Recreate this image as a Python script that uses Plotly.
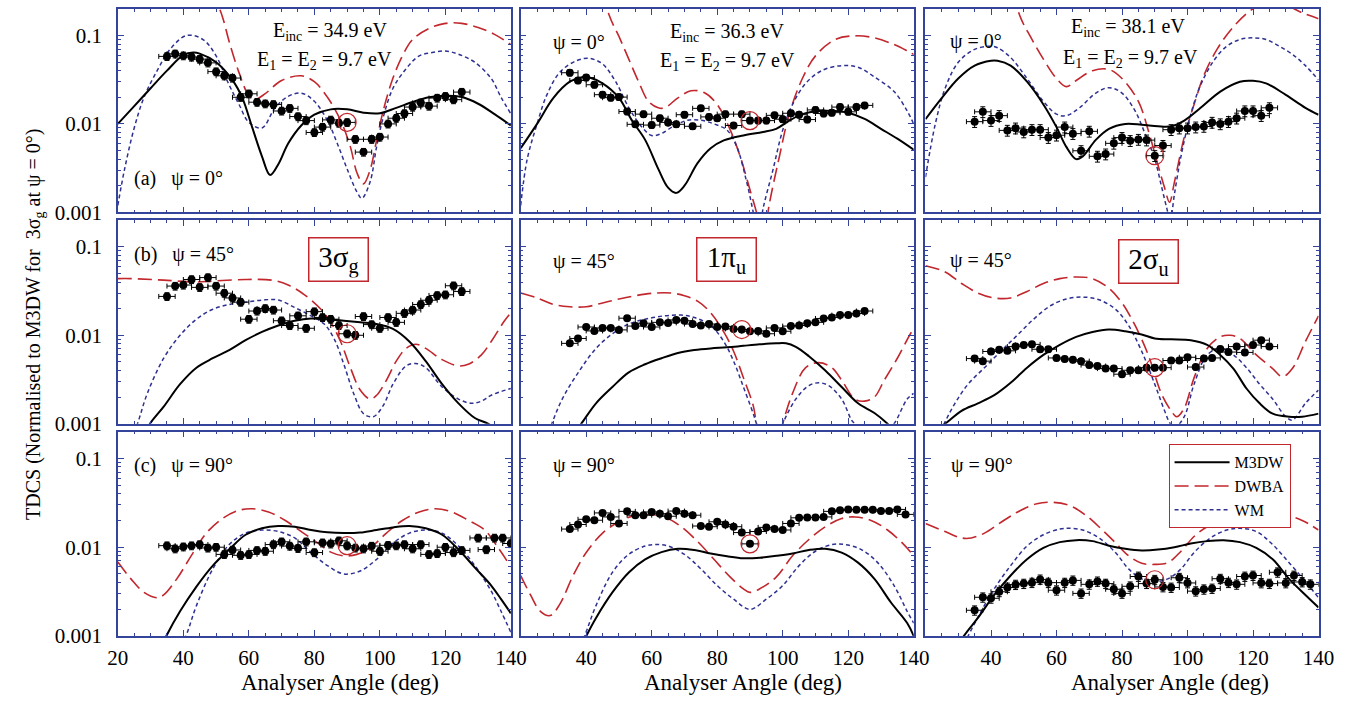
import plotly.graph_objects as go

# ---------------- experimental angles ----------------
ANG_A = [35, 37.5, 40, 42.5, 45, 47.5, 50, 52.5, 55, 57.5, 60, 62.5, 65, 67.5, 70, 72.5,
         75, 77.5, 80, 82.5, 85, 87.5, 90, 92.5, 95, 97.5, 100, 102.5, 105, 107.5, 110,
         112.5, 115, 117.5, 120, 122.5, 125]
ANG_B = [35, 37.5, 40, 42.5, 45, 47.5, 50, 52.5, 55, 57.5, 60, 62.5, 65, 67.5, 70, 72.5,
         75, 77.5, 80, 82.5, 85, 87.5, 90, 92.5, 95, 97.5, 100, 102.5, 105, 107.5, 110,
         112.5, 115, 117.5, 120, 122.5, 125, 130, 132.5, 135, 137.5, 140]
ANG_C = [35, 37.5, 40, 42.5, 45, 47.5, 50, 52.5, 55, 57.5, 60, 62.5, 65, 67.5, 70, 72.5,
         75, 77.5, 80, 82.5, 85, 87.5, 90, 92.5, 95, 97.5, 100, 102.5, 105, 107.5, 110,
         112.5, 115, 117.5, 120, 122.5, 125, 127.5, 130, 132.5, 135, 137.5]

# ---------------- experimental values ----------------
EXP_3SG_0 = [0.058, 0.062, 0.059, 0.057, 0.054, 0.049, 0.039, 0.035, 0.033, 0.020, 0.0219, 0.0176,
             0.0169, 0.0166, 0.014, 0.015, 0.0121, 0.0109, 0.008, 0.0092, 0.0111, 0.0102, 0.0104,
             0.0067, 0.0048, 0.0067, 0.0071, 0.010, 0.0116, 0.0131, 0.0155, 0.0173, 0.0159,
             0.0196, 0.0205, 0.0188, 0.0229]
EXP_1PU_0 = [0.0379, 0.031, 0.0334, 0.0277, 0.0214, 0.0198, 0.0201, 0.0138, 0.0099, 0.0129, 0.0097,
             0.0116, 0.0104, 0.0099, 0.0127, 0.0094, 0.015, 0.012, 0.0116, 0.0129, 0.0096, 0.0129,
             0.0109, 0.0109, 0.0109, 0.0125, 0.0113, 0.0132, 0.0127, 0.0112, 0.0144, 0.0131,
             0.0134, 0.0155, 0.0137, 0.0155, 0.0162]
EXP_2SU_0 = [0.0106, 0.0137, 0.0109, 0.0124, 0.00845, 0.00896, 0.0081, 0.0086, 0.0086, 0.0070,
             0.00745, 0.0092, 0.00776, 0.00497, 0.00824, 0.0043, 0.00456, 0.00603, 0.0070, 0.00646,
             0.00667, 0.00656, 0.00437, 0.00569, 0.0086, 0.00896, 0.00896, 0.0092, 0.00935, 0.0104,
             0.010, 0.0106, 0.0116, 0.014, 0.014, 0.0124, 0.0152]
EXP_3SG_45 = [0.0275, 0.036, 0.037, 0.0427, 0.0348, 0.0449, 0.036, 0.0299, 0.0264, 0.0237, 0.0152,
              0.0188, 0.0201, 0.0193, 0.0146, 0.0129, 0.0166, 0.012, 0.0185, 0.0159, 0.0152, 0.0129,
              0.0104, 0.0100, 0.0163, 0.0132, 0.012, 0.0159, 0.014, 0.0177, 0.0193, 0.0223, 0.0249,
              0.0282, 0.0287, 0.0363, 0.0313]
EXP_1PU_45 = [0.0081, 0.0092, 0.0124, 0.0112, 0.0121, 0.0121, 0.0115, 0.0156, 0.0127, 0.0137, 0.0124,
              0.014, 0.0138, 0.0149, 0.0146, 0.0134, 0.0129, 0.0134, 0.0124, 0.0126, 0.0118, 0.0116,
              0.0111, 0.0112, 0.0104, 0.0121, 0.0111, 0.0127, 0.0129, 0.0137, 0.014, 0.0155, 0.0159,
              0.0169, 0.017, 0.0176, 0.0188]
EXP_2SU_45 = [0.00545, 0.0051, 0.00656, 0.00684, 0.00667, 0.00745, 0.00776, 0.00789, 0.00695,
              0.00695, 0.00554, 0.0054, 0.00527, 0.0051, 0.0046, 0.00449, 0.0042, 0.0042, 0.00363,
              0.00402, 0.00402, 0.0043, 0.0043, 0.0043, 0.00518, 0.00518, 0.00564, 0.00437,
              0.00545, 0.00554, 0.0070, 0.00646, 0.00745, 0.0064, 0.00776, 0.0088, 0.00745]
EXP_3SG_90 = [0.0104, 0.0096, 0.0101, 0.0104, 0.0107, 0.0098, 0.0100, 0.0083, 0.0093, 0.0081, 0.0083,
              0.0092, 0.0090, 0.0107, 0.0115, 0.0103, 0.0097, 0.0115, 0.0087, 0.0112, 0.0109, 0.0118,
              0.0104, 0.0098, 0.0096, 0.0103, 0.0090, 0.0105, 0.0104, 0.0107, 0.0096, 0.0107,
              0.0083, 0.0085, 0.0100, 0.0087, 0.0092, 0.0127, 0.0094, 0.0127, 0.0127, 0.011]
EXP_1PU_90 = [0.016, 0.018, 0.0206, 0.0201, 0.0243, 0.0219, 0.0185, 0.0253, 0.0229, 0.0229, 0.0249,
              0.0238, 0.0223, 0.0255, 0.0238, 0.0229, 0.0173, 0.017, 0.0193, 0.018, 0.017, 0.0146,
              0.0109, 0.015, 0.0167, 0.016, 0.0156, 0.0185, 0.0214, 0.0216, 0.0216, 0.0219, 0.0253,
              0.026, 0.0266, 0.0264, 0.0264, 0.0264, 0.0255, 0.0255, 0.0266, 0.0234]
EXP_2SU_90 = [0.00195, 0.00273, 0.00266, 0.00315, 0.00352, 0.00379, 0.00389, 0.00399, 0.00434,
              0.00399, 0.00328, 0.00399, 0.00423, 0.00302, 0.00382, 0.00412, 0.00389, 0.00336,
              0.00302, 0.00363, 0.00468, 0.00389, 0.0043, 0.00357, 0.00352, 0.00453, 0.00396,
              0.0032, 0.00336, 0.00343, 0.00442, 0.00399, 0.00382, 0.00468, 0.0048, 0.00396,
              0.00389, 0.00522, 0.00396, 0.0048, 0.00406, 0.00382]

# relative vertical error of each panel's data
REL_ERR = [0.10, 0.08, 0.14, 0.10, 0.06, 0.07, 0.10, 0.06, 0.12]
ANG_ERR = 2.5

# highlighted (circled) normalisation point of each panel
CIRCLE_ANG = [90, 90, 90, 90, 87.5, 90, 90, 90, 90]
CIRCLE_VAL = [0.0104, 0.0109, 0.00437, 0.0104, 0.0116, 0.0043, 0.0104, 0.0109, 0.0043]

# ---------------- theory: M3DW ----------------
M3DW_ANG_1 = [20, 25, 30, 35, 40, 43, 45, 50, 55, 58, 61, 64, 66.5, 69, 72, 76, 80, 85, 90, 95, 100,
              105, 110, 115, 120, 125, 130, 135, 140]
M3DW_VAL_1 = [0.01, 0.0159, 0.0253, 0.040, 0.0598, 0.064, 0.0623, 0.0497, 0.0313, 0.0197, 0.0092,
              0.0043, 0.00264, 0.0035, 0.006, 0.0096, 0.0127, 0.0146, 0.0146, 0.0134, 0.0132, 0.0152,
              0.0177, 0.020, 0.0208, 0.0201, 0.0169, 0.0129, 0.0096]
M3DW_ANG_2 = [20, 25, 30, 35, 39, 41, 45, 50, 54, 58, 62, 65, 67.5, 70, 74, 78, 82, 88, 94, 98, 102,
              106, 111, 116, 120, 125, 130, 135, 140]
M3DW_VAL_2 = [0.0053, 0.01, 0.0197, 0.03, 0.034, 0.0334, 0.0287, 0.0197, 0.0109, 0.0066, 0.0031,
              0.0019, 0.00166, 0.002, 0.0036, 0.0053, 0.0065, 0.0074, 0.0081, 0.0088, 0.0109, 0.0129,
              0.014, 0.014, 0.0134, 0.0114, 0.0088, 0.0068, 0.0051]
M3DW_ANG_3 = [20, 25, 30, 35, 40, 42, 46, 51, 56, 60, 63, 66, 68, 72, 76, 81, 86, 91, 95, 99, 104,
              110, 116, 120, 124, 130, 136, 140]
M3DW_VAL_3 = [0.0113, 0.0197, 0.0326, 0.0456, 0.0518, 0.0518, 0.0456, 0.03, 0.0166, 0.0092, 0.0055,
              0.004, 0.0043, 0.0066, 0.0088, 0.01, 0.0098, 0.0094, 0.0094, 0.0109, 0.0152, 0.0232,
              0.03, 0.0307, 0.0287, 0.0213, 0.0152, 0.0127]
M3DW_ANG_4 = [25, 29.8, 34, 39, 44, 49, 54, 59, 64, 69, 74, 79, 84, 89, 94, 99, 104, 109, 114, 119,
              124, 129, 133, 137, 140]
M3DW_VAL_4 = [0.0005, 0.001, 0.00156, 0.0028, 0.0043, 0.0055, 0.0068, 0.0088, 0.0109, 0.0129, 0.0146,
              0.0155, 0.0152, 0.0146, 0.014, 0.0134, 0.0118, 0.0085, 0.0051, 0.0028, 0.0017, 0.00116,
              0.001, 0.0008, 0.0007]
M3DW_ANG_5 = [34, 38.5, 43, 48, 53, 58, 63, 68, 73, 78, 83, 88, 93, 98, 101, 104, 108, 113, 118, 123,
              128, 132, 136]
M3DW_VAL_5 = [0.0006, 0.001, 0.0017, 0.0026, 0.0038, 0.0047, 0.0055, 0.0063, 0.0068, 0.0071, 0.0073,
              0.0076, 0.0079, 0.0081, 0.0081, 0.0074, 0.0058, 0.004, 0.0026, 0.0017, 0.00132, 0.001,
              0.0007]
M3DW_ANG_6 = [20, 24, 26, 31, 36, 41, 46, 51, 56, 61, 66, 71, 76, 81, 86, 90, 95, 101, 106, 110, 114,
              118, 122, 126, 131, 135, 140]
M3DW_VAL_6 = [0.0006, 0.0009, 0.001, 0.0014, 0.0017, 0.0021, 0.0029, 0.0043, 0.006, 0.0078, 0.0096,
              0.0109, 0.0116, 0.0111, 0.0102, 0.0092, 0.009, 0.0088, 0.0078, 0.006, 0.0042, 0.0025,
              0.0017, 0.0013, 0.0012, 0.0012, 0.0013]
M3DW_ANG_7 = [30, 34.8, 39, 44, 49, 54, 59, 64, 69, 74, 79, 84, 89, 94, 99, 104, 109, 114, 119, 124,
              129, 134, 137, 140]
M3DW_VAL_7 = [0.0004, 0.001, 0.0019, 0.0036, 0.0062, 0.0094, 0.0138, 0.0163, 0.0173, 0.017, 0.0156,
              0.0147, 0.0144, 0.0146, 0.0156, 0.0167, 0.0173, 0.0163, 0.0138, 0.0094, 0.0059, 0.0037,
              0.0026, 0.0018]
M3DW_ANG_8 = [36, 40, 43, 48, 53, 58, 63, 68, 73, 78, 83, 88, 93, 98, 103, 108, 113, 118, 123, 128,
              133, 138, 140]
M3DW_VAL_8 = [0.0005, 0.001, 0.0016, 0.0031, 0.0052, 0.0073, 0.0088, 0.0096, 0.0093, 0.0085, 0.0079,
              0.0075, 0.0076, 0.008, 0.0085, 0.0093, 0.0096, 0.0087, 0.0067, 0.0044, 0.0024, 0.0014,
              0.001]
M3DW_ANG_9 = [27, 31.7, 36, 41, 46, 51, 56, 61, 66, 71, 76, 81, 86, 91, 96, 101, 106, 111, 116, 121,
              126, 131, 136, 140]
M3DW_VAL_9 = [0.0005, 0.001, 0.0016, 0.0029, 0.0048, 0.0073, 0.0098, 0.0114, 0.012, 0.0117, 0.0104,
              0.0096, 0.0092, 0.0094, 0.01, 0.011, 0.0117, 0.012, 0.0114, 0.0098, 0.0073, 0.0044,
              0.0029, 0.0021]

# ---------------- theory: DWBA ----------------
DWBA_ANG_1 = [46, 50, 52, 54, 57, 60, 62, 65, 70, 76, 80, 84, 88, 91, 93, 95, 97, 99, 101, 104, 107,
              110, 115, 120, 125, 130, 135, 140]
DWBA_VAL_1 = [0.5, 0.25, 0.16, 0.085, 0.038, 0.021, 0.019, 0.022, 0.031, 0.035, 0.03, 0.02, 0.011,
              0.0055, 0.0028, 0.0021, 0.003, 0.0065, 0.014, 0.033, 0.06, 0.09, 0.12, 0.137, 0.137,
              0.123, 0.103, 0.079]
DWBA_ANG_2 = [44, 47, 50, 53, 56, 59, 62, 64, 68, 72, 76, 80, 84, 87, 90, 92, 94, 96, 99, 102, 106,
              110, 116, 122, 128, 134, 138, 140]
DWBA_VAL_2 = [0.5, 0.17, 0.0975, 0.054, 0.03, 0.018, 0.0152, 0.0152, 0.0197, 0.0237, 0.0226, 0.0166,
              0.0085, 0.0043, 0.0018, 0.001, 0.0005, 0.0013, 0.0043, 0.0129, 0.0326, 0.0588, 0.09,
              0.099, 0.094, 0.079, 0.067, 0.061]
DWBA_ANG_3 = [45, 49, 52, 56, 60, 63, 66, 71, 76, 80, 85, 88, 91, 93, 94.5, 96, 99, 102, 105, 109,
              114, 120, 125, 130, 135, 140]
DWBA_VAL_3 = [0.5, 0.16, 0.0975, 0.054, 0.0326, 0.0264, 0.031, 0.040, 0.0413, 0.0326, 0.018, 0.0085,
              0.0034, 0.0019, 0.0013, 0.0022, 0.0071, 0.0166, 0.0354, 0.0696, 0.125, 0.2, 0.23, 0.22,
              0.18, 0.155]
DWBA_ANG_4 = [20, 24, 34, 44, 49, 59, 67, 72, 77, 82, 85, 88, 91, 94, 97, 99, 102, 105, 108, 111,
              114, 119, 124, 127, 131, 134, 138, 140]
DWBA_VAL_4 = [0.0437, 0.0437, 0.042, 0.040, 0.041, 0.0427, 0.042, 0.037, 0.0287, 0.0197, 0.014,
              0.0085, 0.0043, 0.0024, 0.0019, 0.0021, 0.0031, 0.0051, 0.0071, 0.0079, 0.0071, 0.0053,
              0.0045, 0.0047, 0.006, 0.0085, 0.0145, 0.018]
DWBA_ANG_5 = [20, 25, 30, 35, 40, 45, 50, 55, 61, 66, 70, 74, 78, 82, 85, 88, 91, 92, 94, 98, 100,
              103, 107, 111, 115, 118, 122, 125, 128, 131, 135, 139, 140]
DWBA_VAL_5 = [0.03, 0.0264, 0.0223, 0.021, 0.021, 0.0232, 0.0257, 0.028, 0.03, 0.03, 0.028, 0.0243,
              0.018, 0.0109, 0.0066, 0.0033, 0.0016, 0.001, 0.0005, 0.0005, 0.001, 0.0022, 0.0043,
              0.0049, 0.0043, 0.0031, 0.0019, 0.0018, 0.002, 0.0031, 0.0055, 0.0104, 0.0118]
DWBA_ANG_6 = [20, 26, 31, 36, 41, 46, 51, 56, 61, 66, 71, 76, 80, 84, 88, 92, 95, 96.7, 99, 102, 106,
              110, 113, 116, 121, 126, 129, 132, 136, 140]
DWBA_VAL_6 = [0.061, 0.052, 0.0385, 0.03, 0.0264, 0.0264, 0.0313, 0.0385, 0.0437, 0.0456, 0.0437,
              0.034, 0.0232, 0.0129, 0.006, 0.0022, 0.0014, 0.0012, 0.0015, 0.0033, 0.0071, 0.0096,
              0.01, 0.0092, 0.006, 0.0042, 0.0034, 0.0042, 0.0085, 0.0166]
DWBA_ANG_7 = [20, 24, 28, 32, 34, 38, 43, 47, 52, 57, 61, 66, 71, 76, 81, 85, 89, 93, 97, 102, 107,
              112, 117, 122, 127, 132, 136, 140]
DWBA_VAL_7 = [0.0068, 0.0044, 0.0031, 0.0027, 0.0029, 0.0044, 0.0087, 0.0144, 0.0211, 0.026, 0.0271,
              0.0249, 0.0201, 0.015, 0.0112, 0.0088, 0.008, 0.0083, 0.0098, 0.0144, 0.0201, 0.0249,
              0.0271, 0.0249, 0.0201, 0.0156, 0.01, 0.006]
DWBA_ANG_8 = [20, 23, 26, 29, 32, 36, 40, 45, 50, 55, 59, 64, 69, 74, 79, 84, 88, 90, 93, 98, 103,
              108, 113, 118, 122, 127, 132, 137, 140]
DWBA_VAL_8 = [0.0048, 0.0029, 0.0019, 0.0017, 0.0023, 0.0048, 0.0087, 0.0144, 0.0193, 0.0228, 0.0233,
              0.0219, 0.017, 0.0116, 0.0073, 0.0046, 0.0034, 0.0031, 0.0034, 0.0046, 0.008, 0.0122,
              0.017, 0.021, 0.0219, 0.02, 0.0156, 0.0107, 0.008]
DWBA_ANG_9 = [20, 26, 31, 34, 38, 44, 49, 54, 59, 64, 69, 74, 78, 82, 86, 90, 94, 98, 102, 106, 111,
              116, 120, 125, 130, 135, 140]
DWBA_VAL_9 = [0.0185, 0.015, 0.0127, 0.0127, 0.0144, 0.0201, 0.0259, 0.0308, 0.032, 0.0294, 0.0228,
              0.0156, 0.0112, 0.008, 0.0066, 0.0064, 0.0067, 0.009, 0.0132, 0.017, 0.0201, 0.022,
              0.023, 0.024, 0.023, 0.02, 0.0156]

# ---------------- theory: WM ----------------
WM_ANG_1 = [20, 22, 25, 28, 32, 36, 41, 46, 50, 54, 57, 60, 64, 68, 72, 76, 80, 84, 87, 90, 93, 94.5,
            97, 99, 101, 104, 108, 112, 116, 120, 124, 129, 134, 137, 140]
WM_VAL_1 = [0.0012, 0.003, 0.009, 0.02, 0.04, 0.07, 0.1, 0.09, 0.0588, 0.0275, 0.0166, 0.0104, 0.009,
            0.0152, 0.0205, 0.0223, 0.018, 0.0109, 0.006, 0.0031, 0.0017, 0.00144, 0.0022, 0.0055,
            0.0118, 0.0253, 0.042, 0.0588, 0.064, 0.0667, 0.0613, 0.0497, 0.0326, 0.02, 0.013]
WM_ANG_2 = [20, 22, 25, 28, 32, 37, 41, 45, 49, 53, 57, 60, 63, 67, 71, 75, 79, 83, 86, 89, 91, 92.5,
            94, 97, 100, 103, 107, 112, 118, 123, 128, 134, 138, 140]
WM_VAL_2 = [0.0012, 0.004, 0.01, 0.0213, 0.0385, 0.0518, 0.055, 0.0476, 0.03, 0.0153, 0.0092, 0.0074,
            0.0078, 0.0096, 0.011, 0.011, 0.01, 0.0085, 0.0055, 0.0022, 0.001, 0.0005, 0.0011, 0.003,
            0.0085, 0.0166, 0.0287, 0.0402, 0.0456, 0.0437, 0.034, 0.0232, 0.014, 0.01]
WM_ANG_3 = [20, 23, 26, 30, 35, 40, 42, 46, 51, 56, 60, 63, 67, 72, 76, 80, 84, 87, 90, 92, 93.7,
            94.7, 96, 98, 101, 104, 108, 112, 116, 120, 124, 128, 132, 136, 140]
WM_VAL_3 = [0.0025, 0.01, 0.0253, 0.0497, 0.0696, 0.0757, 0.0726, 0.0563, 0.0326, 0.018, 0.0129,
            0.0124, 0.0152, 0.0223, 0.0257, 0.0223, 0.014, 0.0078, 0.004, 0.002, 0.0011, 0.0008,
            0.0016, 0.0043, 0.0129, 0.0275, 0.0518, 0.0757, 0.09, 0.094, 0.09, 0.0757, 0.0613,
            0.0456, 0.0313]
WM_ANG_4 = [22, 26, 29, 34, 39, 44, 49, 54, 59, 64, 69, 74, 79, 83, 86, 89, 92, 95, 98, 101, 104,
            108, 111, 114, 119, 124, 128, 131, 134, 140]
WM_VAL_4 = [0.0004, 0.001, 0.0022, 0.0055, 0.01, 0.0152, 0.0197, 0.0223, 0.0237, 0.025, 0.025, 0.0206,
            0.0166, 0.0134, 0.0092, 0.0047, 0.0022, 0.0013, 0.0012, 0.0016, 0.0028, 0.0045, 0.0048,
            0.0043, 0.0026, 0.0019, 0.0017, 0.0018, 0.0021, 0.0025]
WM_ANG_5 = [26, 29.5, 33, 38, 43, 48, 53, 58, 64, 69, 73, 78, 82, 85, 88, 91, 92, 96, 100, 104, 108,
            111, 114, 118, 121, 122, 126, 130, 134, 138, 140]
WM_VAL_5 = [0.0004, 0.001, 0.002, 0.004, 0.0071, 0.0104, 0.0134, 0.0152, 0.0166, 0.0169, 0.0159,
            0.0129, 0.0085, 0.0051, 0.0026, 0.0013, 0.001, 0.0004, 0.001, 0.0019, 0.0027, 0.0029,
            0.0027, 0.0019, 0.0011, 0.001, 0.0007, 0.0007, 0.001, 0.0019, 0.0022]
WM_ANG_6 = [22, 25.7, 29, 33, 38, 43, 48, 53, 58, 63, 68, 73, 78, 82, 86, 90, 93, 94.7, 96, 99, 102,
            106, 110, 114, 118, 122, 126, 130, 132, 136, 140]
WM_VAL_6 = [0.0005, 0.001, 0.0017, 0.0028, 0.0043, 0.0066, 0.01, 0.0152, 0.0214, 0.0257, 0.027,
            0.0252, 0.0197, 0.0129, 0.0066, 0.0028, 0.0014, 0.001, 0.0009, 0.0012, 0.0028, 0.006,
            0.0071, 0.006, 0.0043, 0.0028, 0.0019, 0.0012, 0.0011, 0.0017, 0.0024]
WM_ANG_7 = [36, 40.8, 44, 49, 54, 59, 64, 69, 74, 79, 84, 89, 94, 99, 104, 109, 114, 119, 124, 129,
            134, 137, 140]
WM_VAL_7 = [0.0004, 0.001, 0.0022, 0.0057, 0.0107, 0.0144, 0.0156, 0.015, 0.0127, 0.0087, 0.0062,
            0.005, 0.0054, 0.0073, 0.0111, 0.0144, 0.0156, 0.0144, 0.0103, 0.0062, 0.0032, 0.0019,
            0.0011]
WM_ANG_8 = [35, 39.5, 43, 48, 53, 58, 61, 65, 70, 75, 80, 85, 90, 95, 100, 105, 110, 115, 119, 124,
            129, 134, 138, 140]
WM_VAL_8 = [0.0004, 0.001, 0.0022, 0.0052, 0.0083, 0.0103, 0.0107, 0.0103, 0.0083, 0.0057, 0.0037,
            0.0026, 0.002, 0.0026, 0.0037, 0.0062, 0.009, 0.0107, 0.0107, 0.0094, 0.0067, 0.0037,
            0.0019, 0.0014]
WM_ANG_9 = [29, 33, 37, 41, 46, 51, 56, 61, 64, 68, 73, 78, 82, 86, 90, 94, 98, 102, 107, 112, 116,
            121, 126, 131, 136, 140]
WM_VAL_9 = [0.0005, 0.001, 0.0019, 0.0034, 0.0062, 0.0103, 0.0138, 0.016, 0.0163, 0.0156, 0.0127,
            0.0087, 0.0057, 0.0044, 0.0041, 0.0044, 0.0057, 0.0087, 0.0127, 0.0156, 0.0163, 0.015,
            0.0107, 0.0067, 0.0041, 0.0027]

X_TICKS_FIRST = [20, 40, 60, 80, 100, 120, 140]
X_TICKS_OTHER = [40, 60, 80, 100, 120, 140]
Y_TICKS = [0.001, 0.01, 0.1]
Y_TICK_TEXT = ["0.001", "0.01", "0.1"]
Y_MINOR = [0.002, 0.003, 0.004, 0.005, 0.006, 0.007, 0.008, 0.009,
           0.02, 0.03, 0.04, 0.05, 0.06, 0.07, 0.08, 0.09]

# ---------------- assembly ----------------
EXP_ANGS = [ANG_A, ANG_A, ANG_A, ANG_A, ANG_A, ANG_A, ANG_B, ANG_C, ANG_C]
EXP_VALS = [EXP_3SG_0, EXP_1PU_0, EXP_2SU_0, EXP_3SG_45, EXP_1PU_45, EXP_2SU_45,
            EXP_3SG_90, EXP_1PU_90, EXP_2SU_90]
M3DW = [(M3DW_ANG_1, M3DW_VAL_1), (M3DW_ANG_2, M3DW_VAL_2), (M3DW_ANG_3, M3DW_VAL_3),
        (M3DW_ANG_4, M3DW_VAL_4), (M3DW_ANG_5, M3DW_VAL_5), (M3DW_ANG_6, M3DW_VAL_6),
        (M3DW_ANG_7, M3DW_VAL_7), (M3DW_ANG_8, M3DW_VAL_8), (M3DW_ANG_9, M3DW_VAL_9)]
DWBA = [(DWBA_ANG_1, DWBA_VAL_1), (DWBA_ANG_2, DWBA_VAL_2), (DWBA_ANG_3, DWBA_VAL_3),
        (DWBA_ANG_4, DWBA_VAL_4), (DWBA_ANG_5, DWBA_VAL_5), (DWBA_ANG_6, DWBA_VAL_6),
        (DWBA_ANG_7, DWBA_VAL_7), (DWBA_ANG_8, DWBA_VAL_8), (DWBA_ANG_9, DWBA_VAL_9)]
WM = [(WM_ANG_1, WM_VAL_1), (WM_ANG_2, WM_VAL_2), (WM_ANG_3, WM_VAL_3),
      (WM_ANG_4, WM_VAL_4), (WM_ANG_5, WM_VAL_5), (WM_ANG_6, WM_VAL_6),
      (WM_ANG_7, WM_VAL_7), (WM_ANG_8, WM_VAL_8), (WM_ANG_9, WM_VAL_9)]

W, H = 1361, 709
NAVY = "#34449a"
RED = "#c1272d"
BLUE = "#2e3192"
FONT = "Liberation Serif, Times New Roman, serif"

COLS = [(109, 510), (520, 921), (933, 1334)]
ROWS = [(9, 216), (224, 431), (439, 647)]


def px(x):
    return x / W


def py(y):
    return 1 - y / H


fig = go.Figure()
layout = {}
for i in range(9):
    r, c = divmod(i, 3)
    sfx = "" if i == 0 else str(i + 1)
    xa, ya = "x" + sfx, "y" + sfx
    first = (i == 0)

    fig.add_trace(go.Scatter(x=DWBA[i][0], y=DWBA[i][1], mode="lines", name="DWBA",
                             line=dict(color=RED, width=1.6, dash="14px,6px", shape="spline"),
                             xaxis=xa, yaxis=ya, showlegend=first, legendrank=2))
    fig.add_trace(go.Scatter(x=WM[i][0], y=WM[i][1], mode="lines", name="WM",
                             line=dict(color=BLUE, width=1.5, dash="4px,3px", shape="spline"),
                             xaxis=xa, yaxis=ya, showlegend=first, legendrank=3))
    fig.add_trace(go.Scatter(x=M3DW[i][0], y=M3DW[i][1], mode="lines", name="M3DW",
                             line=dict(color="black", width=2, shape="spline"),
                             xaxis=xa, yaxis=ya, showlegend=first, legendrank=1))
    vals = EXP_VALS[i]
    fig.add_trace(go.Scatter(x=EXP_ANGS[i], y=vals, mode="markers",
                             marker=dict(color="black", size=8),
                             error_y=dict(type="data", array=[v * REL_ERR[i] for v in vals],
                                          color="black", thickness=1, width=2.5),
                             error_x=dict(type="constant", value=ANG_ERR,
                                          color="black", thickness=1, width=2.5),
                             xaxis=xa, yaxis=ya, showlegend=False))
    fig.add_trace(go.Scatter(x=[CIRCLE_ANG[i]], y=[CIRCLE_VAL[i]], mode="markers",
                             marker=dict(symbol="circle-open", size=18, color=RED,
                                         line=dict(width=1.2, color=RED)),
                             xaxis=xa, yaxis=ya, showlegend=False))

    x0, x1 = COLS[c]
    y0, y1 = ROWS[r]
    layout["xaxis" + sfx] = dict(
        domain=[px(x0), px(x1)], anchor=ya, range=[20, 140],
        showline=True, linecolor=NAVY, linewidth=1.5, mirror="ticks",
        ticks="inside", ticklen=6, tickwidth=1, tickcolor=NAVY,
        tickmode="array", tickvals=X_TICKS_FIRST if c == 0 else X_TICKS_OTHER,
        showticklabels=(r == 2), tickfont=dict(family=FONT, size=21, color="black"),
        ticklabelstandoff=2,
        minor=dict(ticks="inside", ticklen=3, tickcolor=NAVY, dtick=5, tick0=0, showgrid=False),
        showgrid=False, zeroline=False, fixedrange=True)
    layout["yaxis" + sfx] = dict(
        domain=[py(y1), py(y0)], anchor=xa, type="log", range=[-3, -0.69897],
        showline=True, linecolor=NAVY, linewidth=1.5, mirror="ticks",
        ticks="inside", ticklen=6, tickwidth=1, tickcolor=NAVY,
        tickmode="array", tickvals=Y_TICKS, ticktext=Y_TICK_TEXT,
        showticklabels=(c == 0), tickfont=dict(family=FONT, size=21, color="black"),
        ticklabelstandoff=10,
        minor=dict(ticks="inside", ticklen=3, tickcolor=NAVY, tickmode="array",
                   tickvals=Y_MINOR, showgrid=False),
        showgrid=False, zeroline=False, fixedrange=True)

NB = "\u00a0"
ann = []


def label(text, x, y, xanchor="left", size=20):
    ann.append(dict(text=text, x=px(x), y=py(y), xref="paper", yref="paper",
                    xanchor=xanchor, yanchor="middle", showarrow=False,
                    font=dict(family=FONT, size=size, color="black")))


def boxed(text, x, y):
    ann.append(dict(text=text, x=px(x), y=py(y), xref="paper", yref="paper",
                    xanchor="center", yanchor="middle", showarrow=False,
                    font=dict(family=FONT, size=29, color="black"),
                    bordercolor=RED, borderwidth=1.5, borderpad=3, bgcolor="white",
                    width=52, height=36))


label("E<sub>inc</sub> = 34.9 eV", 325, 32, "center")
label("E<sub>1</sub> = E<sub>2</sub> = 9.7 eV", 320, 62, "center")
label("(a)" + NB * 3 + "ψ = 0°", 123, 182)
label("ψ = 0°", 551, 43)
label("E<sub>inc</sub> = 36.3 eV", 731, 33, "center")
label("E<sub>1</sub> = E<sub>2</sub> = 9.7 eV", 731, 63, "center")
label("ψ = 0°", 956, 42)
label("E<sub>inc</sub> = 38.1 eV", 1140, 28, "center")
label("E<sub>1</sub> = E<sub>2</sub> = 9.7 eV", 1142, 59, "center")
label("(b)" + NB * 3 + "ψ = 45°", 123, 259)
label("ψ = 45°", 551, 266)
label("ψ = 45°", 956, 265)
label("(c)" + NB * 3 + "ψ = 90°", 123, 474)
label("ψ = 90°", 551, 474)
label("ψ = 90°", 957, 474)
boxed("3σ<sub>g</sub>", 334, 264)
boxed("1π<sub>u</sub>", 730, 264)
boxed("2σ<sub>u</sub>", 1161, 266)
for cx in (336, 747, 1182):
    label("Analyser Angle (deg)", cx, 694, "center", size=23)
ann.append(dict(text="TDCS (Normalised to M3DW for " + NB + "3σ<sub>g</sub> at ψ = 0°)",
                x=px(24), y=py(330), xref="paper", yref="paper", textangle=-90,
                xanchor="center", yanchor="middle", showarrow=False,
                font=dict(family=FONT, size=20, color="black")))

fig.update_layout(
    width=W, height=H, margin=dict(l=0, r=0, t=0, b=0),
    paper_bgcolor="white", plot_bgcolor="white",
    annotations=ann,
    legend=dict(x=px(1181), y=py(452), xanchor="left", yanchor="top",
                bgcolor="white", bordercolor=RED, borderwidth=1,
                font=dict(family=FONT, size=16, color="black"),
                tracegroupgap=2, itemwidth=55),
    **layout)

fig.write_html("out.html")
